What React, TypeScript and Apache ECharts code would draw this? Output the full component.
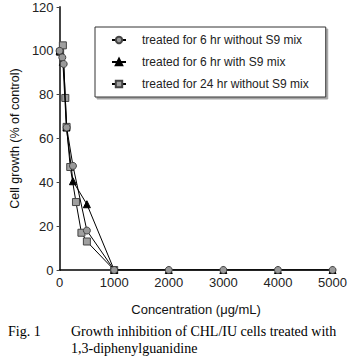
import React, { useEffect, useRef } from "react";
import * as echarts from "echarts";

const seriesNames = [
  "treated for 6 hr without S9 mix",
  "treated for 6 hr with S9 mix",
  "treated for 24 hr without S9 mix",
];
const s1: number[][] = [
  [0, 100], [50, 97], [75, 94], [130, 65], [245, 47.5], [500, 18], [1000, 0], [2000, 0], [3000, 0], [4000, 0], [5000, 0],
];
const s2: number[][] = [
  [0, 100], [60, 95], [125, 65], [245, 40.5], [500, 30], [1000, 0], [2000, 0], [3000, 0], [4000, 0], [5000, 0],
];
const s3: number[][] = [
  [10, 99.5], [60, 102.5], [105, 78.5], [128, 65.3], [195, 47], [300, 31], [400, 17], [500, 13], [1000, 0],
];
const xTicks = [0, 1000, 2000, 3000, 4000, 5000];
const yTicks = [0, 20, 40, 60, 80, 100, 120];

export default function App() {
  const ref = useRef<HTMLDivElement>(null);
  useEffect(() => {
    const chart = echarts.init(ref.current!, null, { renderer: "svg" });
    const font = "Liberation Sans, Arial, sans-serif";
    const serif = "Liberation Serif, DejaVu Serif, serif";
    chart.setOption({
      animation: false,
      backgroundColor: "#fff",
      grid: { left: 48, right: 16, top: 7, bottom: 89, containLabel: false },
      legend: {
        orient: "vertical",
        left: 95,
        top: 27,
        padding: [7, 17, 7, 16],
        itemWidth: 14,
        itemHeight: 8,
        itemGap: 10,
        borderColor: "#333",
        borderWidth: 1,
        backgroundColor: "#fff",
        shadowColor: "rgba(0,0,0,0.35)",
        shadowOffsetX: 2,
        shadowOffsetY: 2,
        shadowBlur: 0,
        textStyle: { fontFamily: font, fontSize: 12, color: "#222", padding: [0, 0, 0, 11] },
        data: seriesNames,
      },
      xAxis: {
        type: "value",
        min: 0,
        max: 5000,
        interval: 1000,
        name: "Concentration (\u03bcg/mL)",
        nameLocation: "middle",
        nameGap: 33,
        nameTextStyle: { fontFamily: font, fontSize: 13, color: "#111" },
        axisLine: { show: true, onZero: false, lineStyle: { color: "#000", width: 1.5 } },
        axisTick: { show: false },
        axisLabel: {
          fontFamily: font, fontSize: 13, color: "#222", margin: 6,
          formatter: (v: number) => (xTicks.includes(v) ? String(v) : ""),
        },
        splitLine: { show: false },
      },
      yAxis: {
        type: "value",
        min: 0,
        max: 120,
        interval: 20,
        name: "Cell growth (% of control)",
        nameLocation: "middle",
        nameGap: 34,
        nameTextStyle: { fontFamily: font, fontSize: 12.5, color: "#111" },
        axisLine: { show: true, lineStyle: { color: "#444", width: 2 } },
        axisTick: { show: true, length: 3, lineStyle: { color: "#444" } },
        axisLabel: {
          fontFamily: font, fontSize: 13, color: "#222", margin: 6,
          formatter: (v: number) => (yTicks.includes(v) ? String(v) : ""),
        },
        splitLine: { show: false },
      },
      series: [
        {
          name: seriesNames[2], type: "line", data: s3, symbol: "rect", symbolSize: 7,
          lineStyle: { color: "#000", width: 1 },
          itemStyle: { color: "#a0a0a0", borderColor: "#444", borderWidth: 1 },
          z: 2,
        },
        {
          name: seriesNames[1], type: "line", data: s2, symbol: "triangle", symbolSize: 7,
          lineStyle: { color: "#000", width: 1 },
          itemStyle: { color: "#000", borderColor: "#000", borderWidth: 1 },
          z: 3,
        },
        {
          name: seriesNames[0], type: "line", data: s1, symbol: "circle", symbolSize: 7,
          lineStyle: { color: "#000", width: 1 },
          itemStyle: { color: "#999", borderColor: "#444", borderWidth: 1 },
          z: 4,
        },
      ],
      graphic: [
        { type: "text", left: 8, top: 324, style: { text: "Fig. 1", fontFamily: serif, fontSize: 14, fill: "#000" } },
        { type: "text", left: 71, top: 324, style: { text: "Growth inhibition of CHL/IU cells treated with", fontFamily: serif, fontSize: 14, fill: "#000" } },
        { type: "text", left: 71, top: 341, style: { text: "1,3-diphenylguanidine", fontFamily: serif, fontSize: 14, fill: "#000" } },
      ],
    });
    return () => chart.dispose();
  }, []);
  return <div ref={ref} style={{ width: 350, height: 359, position: "absolute", left: 0, top: 0 }} />;
}
